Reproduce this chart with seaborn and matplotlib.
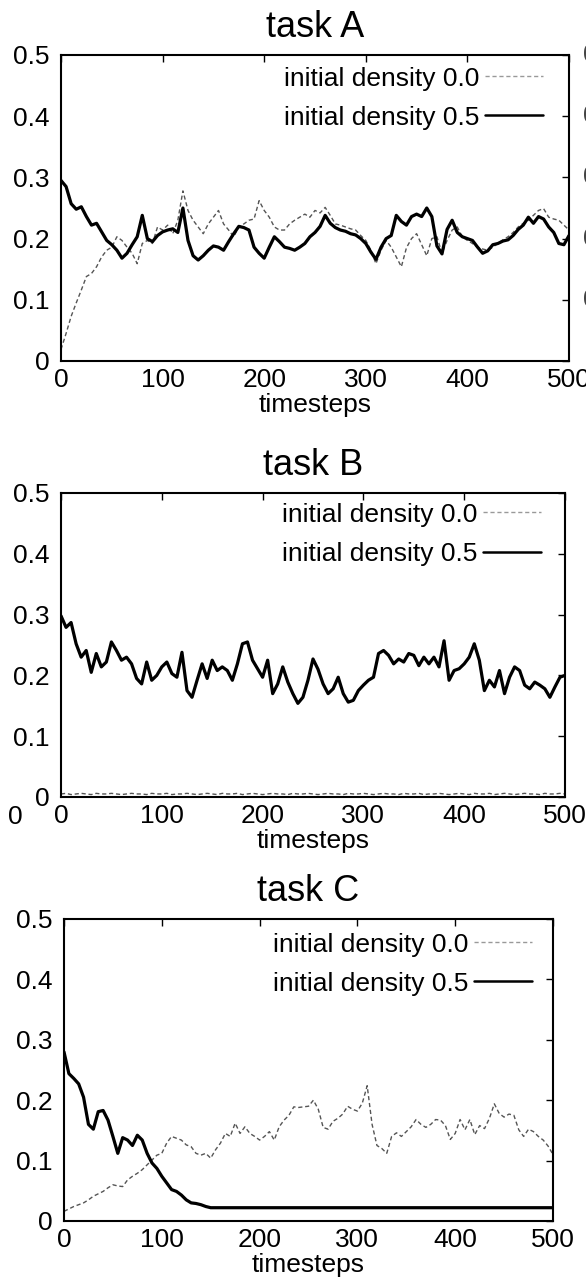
import matplotlib
matplotlib.use("Agg")
import matplotlib.pyplot as plt
import seaborn as sns
import pandas as pd

# ---------------- data ----------------
timesteps = list(range(0, 501, 5))

taskA_d00 = [.019, .045, .073, .095, .116, .138, .143, .154, .170, .181,
             .186, .203, .197, .186, .176, .159, .192, .197, .192, .219,
             .214, .222, .208, .230, .278, .246, .230, .219, .208, .224,
             .235, .246, .224, .214, .203, .219, .224, .230, .232, .262,
             .246, .235, .219, .214, .214, .224, .230, .235, .240, .235,
             .246, .242, .251, .238, .224, .222, .219, .216, .214, .205,
             .197, .181, .159, .181, .197, .186, .170, .154, .185, .200,
             .208, .190, .172, .200, .203, .176, .197, .214, .219, .203,
             .197, .192, .186, .183, .181, .186, .192, .198, .203, .210,
             .219, .225, .230, .238, .246, .249, .235, .232, .230, .222,
             .214]
taskA_d05 = [.295, .285, .257, .248, .252, .236, .222, .225, .211, .197,
             .190, .181, .168, .176, .190, .203, .238, .200, .195, .205,
             .211, .214, .216, .210, .250, .197, .172, .165, .172, .181,
             .188, .186, .181, .195, .208, .220, .218, .214, .186, .176,
             .168, .186, .203, .195, .186, .184, .181, .186, .192, .203,
             .210, .220, .238, .225, .218, .214, .212, .208, .206, .200,
             .192, .178, .166, .186, .200, .205, .238, .228, .222, .236,
             .240, .236, .250, .236, .188, .175, .215, .230, .210, .203,
             .200, .197, .186, .176, .180, .190, .192, .196, .198, .205,
             .215, .222, .235, .225, .236, .232, .219, .210, .192, .190,
             .205]

taskB_d00 = [.005, .006, .004, .005, .006, .005, .004, .006, .005, .005,
             .006, .005, .004, .005, .006, .005, .005, .004, .006, .005,
             .005, .006, .004, .005, .005, .006, .005, .004, .005, .006,
             .005, .004, .006, .005, .005, .006, .004, .005, .006, .005,
             .004, .005, .006, .005, .005, .004, .006, .005, .005, .006,
             .005, .004, .005, .006, .005, .005, .004, .006, .005, .005,
             .006, .005, .004, .005, .006, .005, .005, .004, .006, .005,
             .005, .006, .004, .005, .005, .006, .005, .004, .005, .006,
             .005, .004, .006, .005, .005, .006, .004, .005, .006, .005,
             .004, .005, .006, .005, .005, .004, .006, .005, .005, .006,
             .005]
taskB_d05 = [.298, .279, .287, .252, .230, .241, .205, .236, .214, .222,
             .255, .241, .225, .230, .219, .195, .186, .222, .192, .200,
             .214, .222, .203, .197, .238, .175, .164, .192, .219, .195,
             .225, .208, .214, .208, .192, .219, .252, .255, .225, .211,
             .197, .225, .170, .186, .214, .189, .170, .154, .164, .192,
             .227, .210, .186, .170, .178, .197, .170, .156, .159, .175,
             .184, .192, .197, .236, .241, .233, .219, .227, .222, .236,
             .233, .216, .230, .219, .230, .214, .257, .192, .208, .211,
             .219, .230, .252, .225, .175, .192, .181, .208, .170, .197,
             .214, .208, .184, .178, .189, .184, .178, .164, .181, .197,
             .200]

taskC_d00 = [.016, .020, .024, .027, .030, .035, .041, .045, .049, .055,
             .060, .058, .057, .068, .074, .079, .085, .093, .101, .109,
             .112, .129, .140, .137, .134, .126, .123, .112, .109, .112,
             .104, .118, .129, .145, .140, .162, .145, .156, .145, .140,
             .134, .140, .148, .134, .156, .167, .175, .189, .188, .189,
             .190, .200, .185, .155, .152, .165, .170, .177, .190, .185,
             .182, .195, .224, .160, .125, .120, .112, .140, .146, .140,
             .148, .156, .168, .160, .155, .160, .168, .167, .158, .135,
             .145, .168, .151, .168, .143, .158, .153, .170, .194, .178,
             .172, .177, .175, .151, .140, .152, .148, .140, .134, .124,
             .110]
taskC_d05 = [.280, .244, .236, .227, .205, .160, .152, .181, .183, .167,
             .140, .112, .138, .134, .125, .142, .134, .112, .096, .087,
             .074, .063, .052, .049, .043, .035, .030, .029, .027, .024,
             .022, .022, .022, .022, .022, .022, .022, .022, .022, .022,
             .022, .022, .022, .022, .022, .022, .022, .022, .022, .022,
             .022, .022, .022, .022, .022, .022, .022, .022, .022, .022,
             .022, .022, .022, .022, .022, .022, .022, .022, .022, .022,
             .022, .022, .022, .022, .022, .022, .022, .022, .022, .022,
             .022, .022, .022, .022, .022, .022, .022, .022, .022, .022,
             .022, .022, .022, .022, .022, .022, .022, .022, .022, .022,
             .022]

titles = ["task A", "task B", "task C"]
legend_labels = ["initial density 0.0", "initial density 0.5"]
xticks = [0, 100, 200, 300, 400, 500]
yticks = [0, 0.1, 0.2, 0.3, 0.4, 0.5]
ytick_labels = ["0", "0.1", "0.2", "0.3", "0.4", "0.5"]

# ---------------- style ----------------
sns.set_theme(style="white")
plt.rcParams["font.family"] = ["Liberation Sans", "DejaVu Sans"]
plt.rcParams["text.color"] = "black"
plt.rcParams["axes.labelcolor"] = "black"
plt.rcParams["axes.titlecolor"] = "black"
plt.rcParams["xtick.color"] = "black"
plt.rcParams["ytick.color"] = "black"

W, H = 586, 1281
fig = plt.figure(figsize=(W / 100, H / 100), dpi=100)

# axes boxes in pixels: left, right, top, bottom
boxes = [(61, 569, 55, 361), (61, 565, 493, 797), (64, 553, 919, 1221)]
legend_anchor = [(0.949, 0.962), (0.952, 0.968), (0.957, 0.955)]
series = [(taskA_d00, taskA_d05), (taskB_d00, taskB_d05), (taskC_d00, taskC_d05)]

FS = 19
for (l, r, t, b), title, (d00, d05), anch in zip(boxes, titles, series, legend_anchor):
    ax = fig.add_axes([l / W, 1 - b / H, (r - l) / W, (b - t) / H])
    df = pd.DataFrame({"timesteps": timesteps, "d00": d00, "d05": d05})
    sns.lineplot(data=df, x="timesteps", y="d00", ax=ax, color="#555555",
                 linewidth=1.0, linestyle=(0, (3, 2)), label=legend_labels[0],
                 errorbar=None, legend=False)
    sns.lineplot(data=df, x="timesteps", y="d05", ax=ax, color="black",
                 linewidth=2.3, label=legend_labels[1], errorbar=None, legend=False)
    ax.set_xlim(0, 500)
    ax.set_ylim(0, 0.5)
    ax.set_xticks(xticks)
    ax.set_yticks(yticks)
    ax.set_yticklabels(ytick_labels)
    ax.set_ylabel("")
    ax.set_xlabel("timesteps", fontsize=FS, labelpad=1, color="black")
    ax.set_title(title, fontsize=26, pad=13, color="black")
    ax.tick_params(direction="in", length=5, width=1, top=True, right=True,
                   labelsize=FS, color="black", labelcolor="black")
    ax.tick_params(axis="x", pad=5)
    ax.tick_params(axis="y", pad=8)
    for sp in ax.spines.values():
        sp.set_color("black")
        sp.set_linewidth(1.5)
    handles = ax.get_lines()[:2]
    leg = ax.legend(handles, legend_labels, loc="upper right",
                    bbox_to_anchor=anch, bbox_transform=ax.transAxes,
                    markerfirst=False, frameon=False, fontsize=FS,
                    handlelength=2.2, handletextpad=0.2, labelspacing=0.57,
                    borderpad=0, borderaxespad=0)
    for txt in leg.get_texts():
        txt.set_color("black")
    leg.get_lines()[0].set_color("#999999")
    leg.get_lines()[1].set_linewidth(1.8)

# fragments of neighbouring panels visible at the crop edges
for yp in [55, 116, 177, 239, 300]:
    fig.text(583.5 / W, 1 - yp / H, "0.5", fontsize=FS, ha="left", va="center",
             color="#444444")
fig.text(15 / W, 1 - 817 / H, "0", fontsize=FS, ha="center", va="center")

fig.savefig("out.png", dpi=100)
